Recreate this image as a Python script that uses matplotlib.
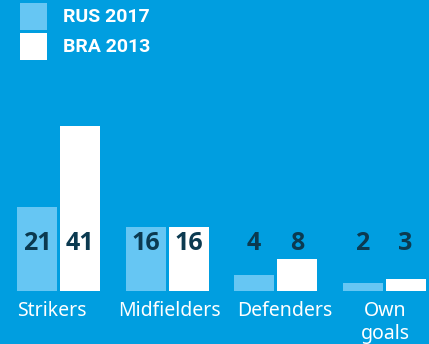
import matplotlib.pyplot as plt
from matplotlib.patches import Rectangle

# goals per position, two tournaments
categories = ["Strikers", "Midfielders", "Defenders", "Own\ngoals"]
rus_2017 = [21, 16, 4, 2]
bra_2013 = [41, 16, 8, 3]
series_names = ["RUS 2017", "BRA 2013"]

BG = "#009ee0"
LIGHT = "#66c6f3"
WHITE = "#ffffff"
DARK = "#0b3a50"

W, H = 429, 344
fig = plt.figure(figsize=(W / 100, H / 100), dpi=100, facecolor=BG)
ax = fig.add_axes([0, 0, 1, 1])
ax.set_facecolor(BG)

# pixel layout -> data limits
step = 108.5            # px between group centres
x0 = 58.5               # px of first group centre
base = H - 291          # baseline, px from bottom
ppu = 4.02              # px per goal
ax.set_xlim(-x0 / step, (W - x0) / step)
ax.set_ylim(-base / ppu, (H - base) / ppu)
ax.axis("off")

bw = 40 / step
off = 21.5 / step
xs = range(len(categories))
ax.bar([x - off for x in xs], rus_2017, width=bw, color=LIGHT, linewidth=0)
ax.bar([x + off for x in xs], bra_2013, width=bw, color=WHITE, linewidth=0)

lab_y = (H - 244 - base) / ppu
for x, a, b in zip(xs, rus_2017, bra_2013):
    for xx, v in ((x - off, a), (x + off, b)):
        ax.text(xx, lab_y, str(v), ha="center", va="center", color=DARK,
                fontsize=18, fontweight="bold", family="Open Sans")

# category names sit a little off the group centres
cat_shift = [-6.5, 2.5, 9.5, 1.0]
cat_y = (H - 301 - base) / ppu
for x, c, s in zip(xs, categories, cat_shift):
    ax.text(x + s / step, cat_y, c, ha="center", va="top", color=WHITE,
            fontsize=14, family="Noto Sans", linespacing=1.2)

# legend swatches
for i, (name, col) in enumerate(zip(series_names, [LIGHT, WHITE])):
    top = 3 + i * 30
    fig.patches.append(Rectangle((20 / W, 1 - (top + 27) / H), 27 / W, 27 / H,
                                 transform=fig.transFigure, color=col, lw=0))
    fig.text(63 / W, 1 - (top + 14) / H, name, ha="left", va="center",
             color=WHITE, fontsize=14, fontweight="bold", family="Roboto")

fig.savefig("out.png", dpi=100, facecolor=BG)
